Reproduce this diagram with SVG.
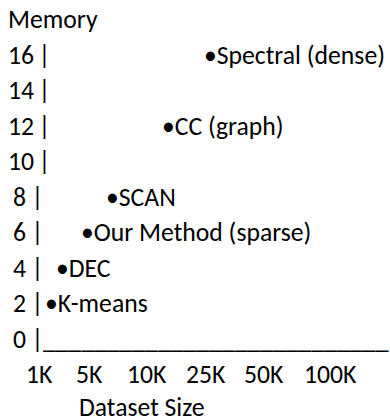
<svg xmlns="http://www.w3.org/2000/svg" width="390" height="419" viewBox="0 0 390 419">
<style>
text{font-family:Carlito,Calibri,"Liberation Sans",sans-serif;font-size:25.7px;fill:#000;white-space:pre}
</style>
<rect width="390" height="419" fill="#fff"/>
<g id="y-axis">
<text x="8" y="28">Memory</text>
<text x="8" y="63.5">16</text><text x="38.5" y="63.5">|</text>
<text x="8" y="99">14</text><text x="38.5" y="99">|</text>
<text x="8" y="134.5">12</text><text x="38.5" y="134.5">|</text>
<text x="8" y="170">10</text><text x="38.5" y="170">|</text>
<text x="13" y="205.5">8</text><text x="31.5" y="205.5">|</text>
<text x="13" y="241">6</text><text x="31.5" y="241">|</text>
<text x="13" y="276.5">4</text><text x="31.5" y="276.5">|</text>
<text x="13" y="312">2</text><text x="31.5" y="312">|</text>
<text x="13" y="347.5">0</text><text x="31.5" y="347.5">|</text>
</g>
<g id="x-axis">
<text x="43" y="347.5">___________________________</text>
<text x="26" y="383">1K</text>
<text x="76" y="383">5K</text>
<text x="127" y="383">10K</text>
<text x="186" y="383">25K</text>
<text x="244" y="383">50K</text>
<text x="304" y="383">100K</text>
<text x="79" y="415.5">Dataset Size</text>
</g>
<g id="spectral"><text x="204" y="63.5">•Spectral (dense)</text></g>
<g id="cc"><text x="162" y="134.5">•CC (graph)</text></g>
<g id="scan"><text x="106" y="205.5">•SCAN</text></g>
<g id="ours"><text x="81" y="241">•Our Method (sparse)</text></g>
<g id="dec"><text x="56" y="276.5">•DEC</text></g>
<g id="kmeans"><text x="45" y="312">•K-means</text></g>
<g id="connectors"></g>
</svg>
